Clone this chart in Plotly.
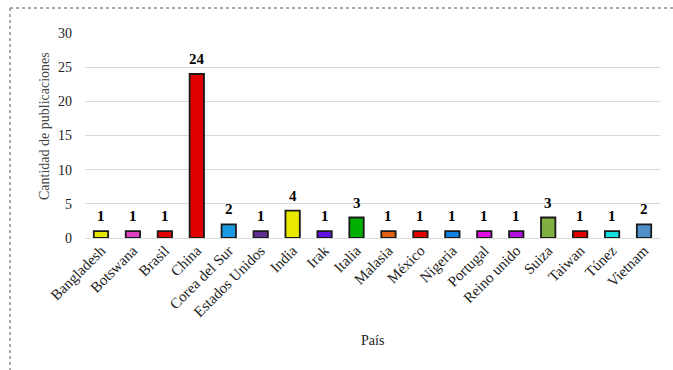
import plotly.graph_objects as go

paises = ["Bangladesh", "Botswana", "Brasil", "China", "Corea del Sur", "Estados Unidos",
          "India", "Irak", "Italia", "Malasia", "México", "Nigeria", "Portugal",
          "Reino unido", "Suiza", "Taiwan", "Túnez", "Vietnam"]
publicaciones = [1, 1, 1, 24, 2, 1, 4, 1, 3, 1, 1, 1, 1, 1, 3, 1, 1, 2]
colores = ["#e6e600", "#e040c0", "#e00000", "#e00000", "#1a9ae0", "#603090",
           "#e8e800", "#6010e0", "#00b000", "#e06010", "#e00000", "#1080e0",
           "#e010e0", "#b010e0", "#80b040", "#e00000", "#10e0e0", "#5090c8"]
y_ticks = [0, 5, 10, 15, 20, 25, 30]

SERIF = "'Liberation Serif', 'Times New Roman', 'DejaVu Serif', serif"

W, H = 673, 370
L, R, T, B = 85, 13, 33, 132
pw, ph = W - L - R, H - T - B

def px_x(x):
    return (x - L) / pw

def px_y(y):
    return (H - B - y) / ph

fig = go.Figure(go.Bar(
    x=paises, y=publicaciones,
    marker=dict(color=colores, line=dict(color="#1a1a1a", width=1.8)),
    cliponaxis=False, width=0.45,
))

data_labels = [
    dict(x=p, y=v, xref="x", yref="y", text=f"<b>{v}</b>", showarrow=False,
         xanchor="center", yanchor="bottom", yshift=5,
         font=dict(family=SERIF, size=15, color="black"))
    for p, v in zip(paises, publicaciones)
]

fig.update_layout(
    width=W, height=H,
    margin=dict(l=L, r=R, t=T, b=B),
    paper_bgcolor="white", plot_bgcolor="white",
    showlegend=False,
    font=dict(family=SERIF, size=14, color="#222"),
    xaxis=dict(tickangle=-45, showgrid=False, showline=False, ticks="",
               tickfont=dict(family=SERIF, size=15, color="#222")),
    yaxis=dict(range=[0, 30], tickvals=y_ticks, showgrid=True, gridcolor="#d9d9d9",
               gridwidth=1, zeroline=True, zerolinecolor="#d9d9d9", zerolinewidth=1,
               showline=False, ticks="", ticklabelstandoff=12,
               tickfont=dict(family=SERIF, size=14, color="#222")),
    annotations=data_labels + [
        dict(text="País", xref="paper", yref="paper", x=px_x(372), y=px_y(340),
             xanchor="center", yanchor="middle", showarrow=False,
             font=dict(family=SERIF, size=14, color="#222")),
        dict(text="Cantidad de publicaciones", xref="paper", yref="paper",
             x=px_x(45), y=px_y(126), textangle=-90,
             xanchor="center", yanchor="middle", showarrow=False,
             font=dict(family=SERIF, size=14, color="#444")),
    ],
    shapes=[
        dict(type="line", xref="paper", yref="paper", x0=px_x(10), x1=px_x(680),
             y0=px_y(8), y1=px_y(8), line=dict(color="#555", width=1, dash="dot")),
        dict(type="line", xref="paper", yref="paper", x0=px_x(10), x1=px_x(10),
             y0=px_y(8), y1=px_y(380), line=dict(color="#555", width=1, dash="dot")),
    ],
)

fig.write_html("out.html")
